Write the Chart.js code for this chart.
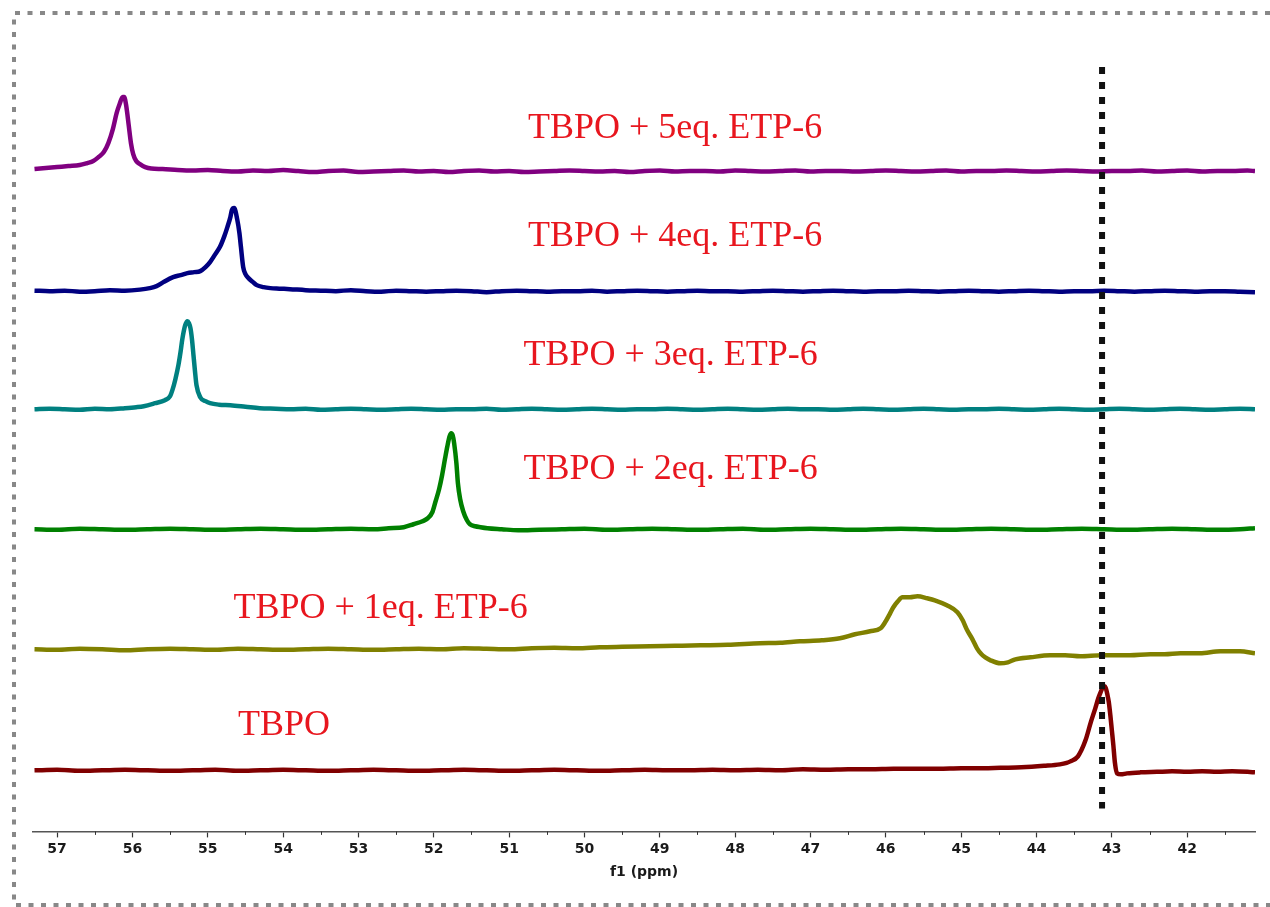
<!DOCTYPE html>
<html>
<head>
<meta charset="utf-8">
<title>31P NMR stack</title>
<script src="https://cdn.jsdelivr.net/npm/chart.js@4.4.1/dist/chart.umd.min.js"></script>
<style>
  html, body { margin: 0; padding: 0; background: #fff; }
  canvas { display: block; }
</style>
</head>
<body>
<canvas id="nmr" width="1270" height="907"></canvas>
<script>
// Spectrum names, bottom to top
const spectrumNames = ['TBPO', 'TBPO + 1eq. ETP-6', 'TBPO + 2eq. ETP-6',
    'TBPO + 3eq. ETP-6', 'TBPO + 4eq. ETP-6', 'TBPO + 5eq. ETP-6'];

// Vertical stacking offsets of each trace (intensity units)
const stackOffsets = [61, 182, 302, 422, 540, 660];

// x axis ticks (ppm)
const tickValues = [57, 56, 55, 54, 53, 52, 51, 50, 49, 48, 47, 46, 45, 44, 43, 42];

// Reference line (ppm)
const referencePpm = 43.13;

// TBPO
const ppm0 = [57.30,57.00,56.70,56.40,56.10,55.80,55.50,55.20,54.90,54.60,
    54.30,54.00,53.70,53.40,53.10,52.80,52.50,52.20,51.90,51.60,
    51.30,51.00,50.70,50.40,50.10,49.80,49.50,49.20,48.90,48.60,
    48.30,48.00,47.70,47.40,47.10,46.80,46.50,46.20,45.90,45.60,
    45.30,45.00,44.70,44.48,44.20,43.90,43.69,43.60,43.55,43.45,
    43.35,43.28,43.22,43.18,43.15,43.12,43.10,43.08,43.06,43.04,
    43.02,43.00,42.98,42.96,42.93,42.88,42.80,42.62,42.40,42.20,
    42.00,41.80,41.60,41.40,41.20,41.10];
const int0 = [0,0.5,-0.5,0,0.5,0,-0.5,0,0.5,-0.5,
    0,0.5,0,-0.5,0,0.5,0,-0.5,0,0.5,
    0,-0.5,0,0.5,0,-0.5,0,0.5,0,0,
    0.5,0,0.5,0,1,0.5,1,1,1.5,1.5,
    1.5,2,2,2.5,3,4.5,6,7.5,9,14,
    30,48,62,72,78,83,84,82,76,68,
    55,40,25,8,-3,-4,-3,-2,-1.5,-1,
    -1.5,-1,-1.5,-1,-1.5,-2];

// TBPO + 1eq. ETP-6
const ppm1 = [57.30,57.00,56.70,56.40,56.10,55.80,55.50,55.20,54.90,54.60,
    54.30,54.00,53.70,53.40,53.10,52.80,52.50,52.20,51.90,51.60,
    51.30,51.00,50.70,50.40,50.10,49.80,49.50,49.13,48.80,48.46,
    48.10,47.67,47.40,47.14,46.85,46.61,46.41,46.21,46.07,46.01,
    45.95,45.90,45.84,45.78,45.68,45.58,45.45,45.35,45.19,45.05,
    44.98,44.92,44.85,44.79,44.73,44.68,44.61,44.48,44.38,44.28,
    44.08,43.82,43.62,43.42,43.13,42.95,42.76,42.49,42.30,42.09,
    41.83,41.56,41.30,41.10];
const int1 = [0,-0.5,0.5,0,-1,0,0.5,0,-0.5,0.5,
    0,-0.5,0,0.5,0,-0.5,0,0.5,0,1,
    0.5,0,1,1.5,1,2,2.5,3,3.5,4,
    4.5,6,6.5,8,9,11,15,18,21,27,
    35,42,48,52,52,53,51,49,44,37,
    29,19,10,1,-5,-8,-11,-14,-13,-10,
    -8,-6,-6,-7,-6,-6,-6,-5,-5,-4,
    -4,-2,-2,-4];

// TBPO + 2eq. ETP-6
const ppm2 = [57.30,57.00,56.70,56.40,56.10,55.80,55.50,55.20,54.90,54.60,
    54.30,54.00,53.70,53.40,53.10,52.80,52.60,52.40,52.27,52.15,
    52.08,52.02,51.98,51.93,51.89,51.85,51.82,51.79,51.77,51.75,
    51.73,51.70,51.68,51.65,51.61,51.56,51.52,51.45,51.38,51.29,
    51.10,50.88,50.60,50.30,50.00,49.70,49.40,49.10,48.80,48.50,
    48.20,47.90,47.60,47.30,47.00,46.70,46.40,46.10,45.80,45.50,
    45.20,44.90,44.60,44.30,44.00,43.70,43.40,43.10,42.80,42.50,
    42.20,41.90,41.60,41.30,41.10];
const int2 = [0,-0.5,0.5,0,-0.5,0,0.5,0,-0.5,0,
    0.5,0,-0.5,0,0.5,0,1,2,5,8,
    11,17,27,40,54,71,83,93,96,94,
    86,66,46,30,18,9,5,3,2,1,
    0,-1,-0.5,0,0.5,-0.5,0,0.5,0,-0.5,
    0,0.5,-0.5,0,0.5,0,-0.5,0,0.5,0,
    -0.5,0,0.5,0,-0.5,0,0.5,0,-0.5,0,
    0.5,0,-0.5,0,1];

// TBPO + 3eq. ETP-6
const ppm3 = [57.30,57.10,56.90,56.70,56.50,56.30,56.10,55.95,55.85,55.70,
    55.57,55.50,55.47,55.43,55.39,55.36,55.34,55.30,55.27,55.25,
    55.23,55.21,55.19,55.17,55.15,55.10,55.03,54.97,54.85,54.70,
    54.50,54.31,54.10,53.90,53.70,53.50,53.30,53.10,52.90,52.70,
    52.50,52.30,52.10,51.90,51.70,51.50,51.30,51.10,50.90,50.70,
    50.50,50.30,50.10,49.90,49.70,49.50,49.30,49.10,48.90,48.70,
    48.50,48.30,48.10,47.90,47.70,47.50,47.30,47.10,46.90,46.70,
    46.50,46.30,46.10,45.90,45.70,45.50,45.30,45.10,44.90,44.70,
    44.50,44.30,44.10,43.90,43.70,43.50,43.30,43.10,42.90,42.70,
    42.50,42.30,42.10,41.90,41.70,41.50,41.30,41.10];
const int3 = [0,0.5,0,-0.5,0.5,0,1,2,3,6,
    9,13,19,30,44,58,69,84,88,86,
    81,70,54,38,24,12,8,6,4.5,4,
    2.5,1,0.5,0,0.5,-0.5,0,0.5,0,-0.5,
    0,0.5,0,-0.5,0,0,0.5,-0.5,0,0.5,
    0,-0.5,0,0.5,0,-0.5,0,0,0.5,0,
    -0.5,0,0.5,0,-0.5,0,0.5,0,0,-0.5,
    0,0.5,0,-0.5,0,0.5,0,-0.5,0,0,
    0.5,0,-0.5,0,0.5,0,-0.5,0,0.5,0,
    -0.5,0,0.5,0,-0.5,0,0.5,0];

// TBPO + 4eq. ETP-6
const ppm4 = [57.30,57.10,56.90,56.70,56.50,56.30,56.10,55.90,55.77,55.68,
    55.59,55.46,55.36,55.27,55.18,55.10,55.03,54.97,54.90,54.84,
    54.78,54.74,54.70,54.68,54.65,54.61,54.58,54.56,54.53,54.50,
    54.46,54.40,54.35,54.26,54.17,54.05,53.91,53.70,53.50,53.30,
    53.10,52.90,52.70,52.50,52.30,52.10,51.90,51.70,51.50,51.30,
    51.10,50.90,50.70,50.50,50.30,50.10,49.90,49.70,49.50,49.30,
    49.10,48.90,48.70,48.50,48.30,48.10,47.90,47.70,47.50,47.30,
    47.10,46.90,46.70,46.50,46.30,46.10,45.90,45.70,45.50,45.30,
    45.10,44.90,44.70,44.50,44.30,44.10,43.90,43.70,43.50,43.30,
    43.10,42.90,42.70,42.50,42.30,42.10,41.90,41.70,41.50,41.30,
    41.10];
const int4 = [0.5,0,0.5,-0.5,0,1,0.5,1.5,3,5,
    9,14,16,18,19,20,24,29,37,44,
    55,64,74,81,83,72,58,44,24,17,
    13,9,6,4,3,2.5,2,1,0.5,0,
    1,0,-0.5,0.5,0,-0.5,0,0.5,0,-1,
    0,0.5,0,-0.5,0,0,0.5,-0.5,0,0.5,
    0,-0.5,0,0.5,0,0,-0.5,0,0.5,0,
    -0.5,0,0.5,0,-0.5,0,0,0.5,0,-0.5,
    0,0.5,0,-0.5,0,0.5,0,-0.5,0,0,
    0.5,0,-0.5,0,0.5,0,-0.5,0,0,-0.5,
    -1];

// TBPO + 5eq. ETP-6
const ppm5 = [57.30,57.15,57.00,56.85,56.70,56.60,56.52,56.45,56.38,56.32,
    56.26,56.21,56.17,56.13,56.11,56.08,56.05,56.02,55.99,55.95,
    55.90,55.83,55.75,55.60,55.40,55.20,55.00,54.80,54.60,54.40,
    54.20,54.00,53.80,53.60,53.40,53.20,53.00,52.80,52.60,52.40,
    52.20,52.00,51.80,51.60,51.40,51.20,51.00,50.80,50.60,50.40,
    50.20,50.00,49.80,49.60,49.40,49.20,49.00,48.80,48.60,48.40,
    48.20,48.00,47.80,47.60,47.40,47.20,47.00,46.80,46.60,46.40,
    46.20,46.00,45.80,45.60,45.40,45.20,45.00,44.80,44.60,44.40,
    44.20,44.00,43.80,43.60,43.40,43.20,43.00,42.80,42.60,42.40,
    42.20,42.00,41.80,41.60,41.40,41.20,41.10];
const int5 = [2,3,4,5,6,8,10,14,19,28,
    42,58,67,74,74,64,46,28,17,10,
    7,4,2.5,2,1,0.5,1,0,-0.5,0.5,
    0,1,0,-1,0,0.5,-1,-0.5,0,0.5,
    -0.5,0,-1,0,0.5,-0.5,0,-1,-0.5,0,
    0.5,0,-0.5,0,-1,0,0.5,-0.5,0,0,
    -0.5,0.5,0,-0.5,0,0.5,-0.5,0,0,-0.5,
    0,0.5,0,-0.5,0,0.5,-0.5,0,0,0.5,
    0,-0.5,0,0.5,0,-0.5,0,0,0.5,-0.5,
    0,0.5,-0.5,0,0,0.5,0];

const ppmLists = [ppm0, ppm1, ppm2, ppm3, ppm4, ppm5];
const intLists = [int0, int1, int2, int3, int4, int5];
const traceColors = ['#800000', '#808000', '#008000', '#008080', '#000080', '#800080'];

const datasets = spectrumNames.map((name, i) => ({
    label: name,
    data: ppmLists[i].map((p, j) => ({ x: p, y: intLists[i][j] + stackOffsets[i] })),
    borderColor: traceColors[i],
    borderWidth: 4.5,
    pointRadius: 0,
    fill: false,
    cubicInterpolationMode: 'monotone'
}));

// label placement: left edge ppm, baseline in intensity units
const labelSpots = [
    { ppm: 54.60, y: 96 },
    { ppm: 54.66, y: 213 },
    { ppm: 50.81, y: 352 },
    { ppm: 50.81, y: 466 },
    { ppm: 50.75, y: 585 },
    { ppm: 50.75, y: 693 }
];

const axisFont = { family: '"DejaVu Sans", Verdana, sans-serif', size: 14, weight: 'bold' };

const decorPlugin = {
    id: 'decor',
    afterDatasetsDraw(chart) {
        const ctx = chart.ctx;
        const xs = chart.scales.x;
        const ys = chart.scales.y;

        // dotted reference line
        ctx.save();
        ctx.strokeStyle = '#111';
        ctx.lineWidth = 6;
        ctx.setLineDash([7, 8]);
        const rx = xs.getPixelForValue(referencePpm);
        ctx.beginPath();
        ctx.moveTo(rx, ys.getPixelForValue(764));
        ctx.lineTo(rx, ys.getPixelForValue(23));
        ctx.stroke();
        ctx.restore();

        // spectrum labels
        ctx.save();
        ctx.fillStyle = '#e8161e';
        ctx.font = '36px "Liberation Serif", serif';
        ctx.textAlign = 'left';
        ctx.textBaseline = 'alphabetic';
        spectrumNames.forEach((name, i) => {
            const spot = labelSpots[i];
            ctx.fillText(name, xs.getPixelForValue(spot.ppm), ys.getPixelForValue(spot.y));
        });
        ctx.restore();

        // minor ticks at half ppm
        ctx.save();
        ctx.strokeStyle = '#333';
        ctx.lineWidth = 1;
        const axisY = chart.chartArea.bottom;
        tickValues.forEach(v => {
            const m = v - 0.5;
            if (m < xs.min) return;
            const px = Math.round(xs.getPixelForValue(m)) + 0.5;
            ctx.beginPath();
            ctx.moveTo(px, axisY);
            ctx.lineTo(px, axisY + 3.5);
            ctx.stroke();
        });
        ctx.restore();
    },
    afterDraw(chart) {
        // dashed frame
        const ctx = chart.ctx;
        ctx.save();
        ctx.strokeStyle = '#888';
        ctx.lineWidth = 4;
        ctx.setLineDash([5, 7.5]);
        ctx.beginPath();
        ctx.moveTo(1270, 13);
        ctx.lineTo(14, 13);
        ctx.lineTo(14, 905);
        ctx.lineTo(1270, 905);
        ctx.stroke();
        ctx.restore();
    }
};

new Chart(document.getElementById('nmr'), {
    type: 'line',
    data: { datasets: datasets },
    plugins: [decorPlugin],
    options: {
        responsive: false,
        animation: false,
        devicePixelRatio: 1,
        layout: { padding: { left: 33, right: 15, top: 20, bottom: 26 } },
        plugins: {
            legend: { display: false },
            tooltip: { enabled: false }
        },
        scales: {
            x: {
                type: 'linear',
                reverse: true,
                min: 41.10,
                max: 57.32,
                afterBuildTicks: scale => {
                    scale.ticks = tickValues.map(v => ({ value: v }));
                },
                grid: {
                    drawOnChartArea: false,
                    tickLength: 6,
                    tickColor: '#333',
                    tickWidth: 1.2
                },
                border: { display: true, color: '#555', width: 1.5 },
                ticks: {
                    padding: 4,
                    color: '#1a1a1a',
                    maxRotation: 0,
                    autoSkip: false,
                    font: axisFont
                },
                title: {
                    display: true,
                    text: 'f1 (ppm)',
                    color: '#1a1a1a',
                    padding: { top: 2, bottom: 0 },
                    font: axisFont
                }
            },
            y: {
                type: 'linear',
                display: false,
                min: 0,
                max: 811
            }
        }
    }
});
</script>
</body>
</html>
